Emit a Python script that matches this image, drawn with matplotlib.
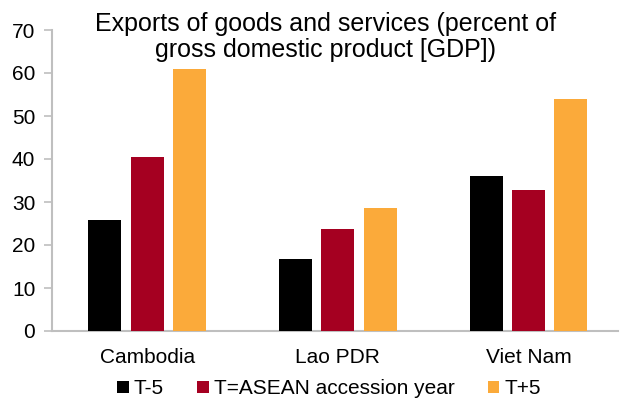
import matplotlib
matplotlib.use("Agg")
import matplotlib.pyplot as plt
import numpy as np

plt.rcParams['font.family'] = ['Liberation Sans', 'DejaVu Sans']

countries = ["Cambodia", "Lao PDR", "Viet Nam"]
series_names = ["T-5", "T=ASEAN accession year", "T+5"]
t_minus_5 = [25.7, 16.8, 36.0]
t_accession = [40.5, 23.7, 32.7]
t_plus_5 = [60.9, 28.6, 54.0]
colors = ["#000000", "#A50021", "#FBAA3A"]
yticks = [0, 10, 20, 30, 40, 50, 60, 70]

fig = plt.figure(figsize=(6.21, 4.04), dpi=100)
ax = fig.add_axes([52 / 621, 1 - 331 / 404, 566 / 621, 301 / 404])

x = np.arange(len(countries))
width = 0.173
pitch = 0.222
for i, (vals, name, col) in enumerate(zip([t_minus_5, t_accession, t_plus_5], series_names, colors)):
    ax.bar(x + (i - 1) * pitch, vals, width, color=col, label=name, zorder=3)

ax.set_xlim(-0.5, 2.47)
ax.set_ylim(0, 70)
ax.set_yticks(yticks)
ax.set_xticks(x)
ax.set_xticklabels(countries, fontsize=15)
ax.tick_params(axis='y', labelsize=15, length=6, width=1.2, color="#bfbfbf", pad=6)
ax.tick_params(axis='x', length=0, pad=12)

for side in ["top", "right"]:
    ax.spines[side].set_visible(False)
for side in ["left", "bottom"]:
    ax.spines[side].set_color("#bfbfbf")
    ax.spines[side].set_linewidth(1.5)

fig.text(0.524, 1 - 37 / 404, "Exports of goods and services (percent of\ngross domestic product [GDP])",
         ha="center", va="center", fontsize=18, linespacing=1.12)

leg = fig.legend(loc="center", bbox_to_anchor=(0.53, 1 - 389 / 404), ncol=3, frameon=False,
                 fontsize=15, handlelength=0.55, handleheight=0.55, handletextpad=0.25,
                 columnspacing=1.6)

fig.savefig("out.png", dpi=100)
